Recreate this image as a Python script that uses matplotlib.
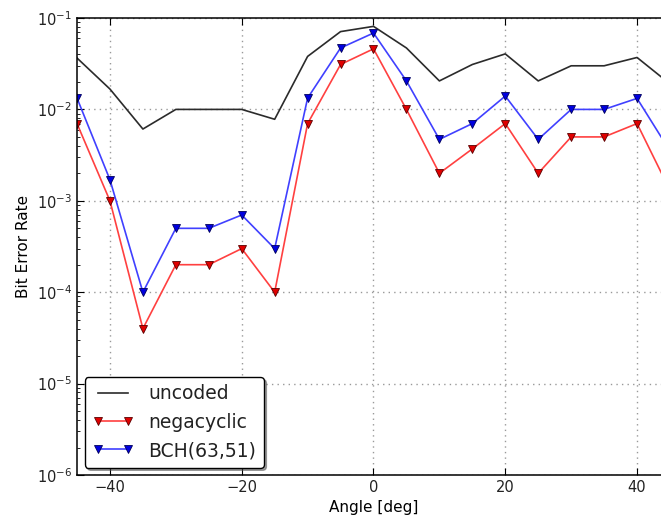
import matplotlib
matplotlib.use("Agg")
import matplotlib.pyplot as plt
import numpy as np

angles = [-45, -40, -35, -30, -25, -20, -15, -10, -5, 0, 5, 10, 15, 20, 25, 30, 35, 40, 45]
uncoded = [0.0365, 0.0167, 0.0061, 0.01, 0.01, 0.01, 0.0078, 0.038, 0.071, 0.081,
           0.047, 0.0205, 0.031, 0.0405, 0.0205, 0.030, 0.030, 0.037, 0.019]
negacyclic = [0.007, 0.001, 4e-5, 2e-4, 2e-4, 3e-4, 1e-4, 0.007, 0.031, 0.046,
              0.01, 0.002, 0.0037, 0.007, 0.002, 0.005, 0.005, 0.007, 0.0013]
bch = [0.0133, 0.0017, 1e-4, 5e-4, 5e-4, 7e-4, 3e-4, 0.0133, 0.047, 0.0685,
       0.0205, 0.0047, 0.007, 0.014, 0.0047, 0.01, 0.01, 0.0132, 0.0035]

plt.rcParams["font.family"] = "DejaVu Sans"
plt.rcParams["xtick.direction"] = "in"
plt.rcParams["ytick.direction"] = "in"
plt.rcParams["xtick.top"] = True
plt.rcParams["ytick.right"] = True
plt.rcParams["mathtext.default"] = "regular"
plt.rcParams["text.color"] = "#222222"
plt.rcParams["xtick.labelcolor"] = "#222222"
plt.rcParams["ytick.labelcolor"] = "#222222"

fig = plt.figure(figsize=(6.61, 5.25), dpi=100)
ax = fig.add_axes([0.1165, 0.0952, 0.8971, 0.8705])

ax.semilogy(angles, uncoded, color="#2b2b2b", lw=1.2, label="uncoded")
ax.semilogy(angles, negacyclic, color="#ff4040", lw=1.2, marker="v", ms=6,
            mfc="#e00000", mec="#5a0000", mew=0.6, label="negacyclic")
ax.semilogy(angles, bch, color="#4040ff", lw=1.2, marker="v", ms=6,
            mfc="#0000e0", mec="#00005a", mew=0.6, label="BCH(63,51)")

ax.set_xlim(-45, 45)
ax.set_ylim(1e-6, 1e-1)
ax.set_xticks([-40, -20, 0, 20, 40])
ax.grid(True, which="major", linestyle=(0, (1, 3)), color="#999999", lw=1.0)
ax.tick_params(which="major", length=5, labelsize=10.5)
ax.tick_params(which="minor", length=2.5)
for s in ax.spines.values():
    s.set_linewidth(1.1)

ax.set_xlabel("Angle [deg]", fontsize=11)
ax.set_ylabel("Bit Error Rate", fontsize=11)

leg = ax.legend(loc="lower left", fontsize=13.5, numpoints=2, fancybox=True,
                shadow=True, framealpha=1, edgecolor="black",
                borderaxespad=0.4, handlelength=2.2)
leg.get_frame().set_linewidth(1.0)

fig.savefig("out.png", dpi=100)
